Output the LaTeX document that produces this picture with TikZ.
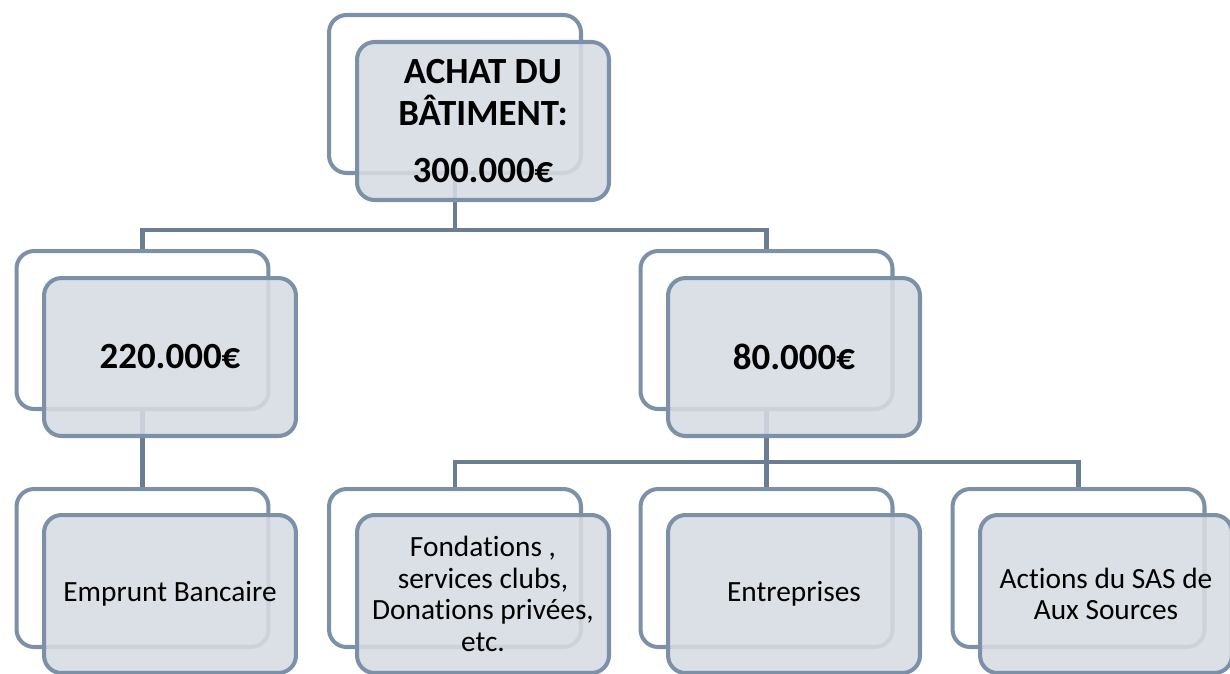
\documentclass[tikz,border=0pt]{standalone}
\usepackage{fontspec}
\setmainfont[Ligatures=NoCommon]{Carlito}
\usetikzlibrary{backgrounds}
\definecolor{cadreBord}{RGB}{124,145,168}
\definecolor{cadreFond}{RGB}{214,219,226}
\definecolor{trait}{RGB}{107,125,145}
\tikzset{
  arriere/.style={draw=cadreBord, line width=2.3pt, rounded corners=10pt,
                  minimum width=5.04cm, minimum height=3.16cm},
  avant/.style={arriere, fill=cadreFond, fill opacity=0.88, text opacity=1,
                align=center, font=\fontsize{16.7}{18}\selectfont},
  montant/.style={font=\fontsize{21}{24}\selectfont\bfseries},
  lien/.style={draw=trait, line width=2.3pt}
}

\begin{document}
\begin{tikzpicture}[x=0.02cm,y=-0.02cm]
    \useasboundingbox (0,0) rectangle (1230,673);
    \clip (0,0) rectangle (1230,673);
    % niveau 1
    \node[arriere] (achat-b) at (455,94) {};
    \node[avant,montant] (achat) at (483,121) {ACHAT DU\\BÂTIMENT:\\[8pt]300.000€};
    % niveau 2
    \node[arriere] (l220-b) at (142.5,330) {};
    \node[avant,montant] (l220) at (170,357) {220.000€};
    \node[arriere] (l80-b) at (766.5,330) {};
    \node[avant,montant] (l80) at (794,357) {80.000€};
    % niveau 3
    \node[arriere] (emp-b) at (142.5,568) {};
    \node[avant] (emp) at (170,594) {Emprunt Bancaire};
    \node[arriere] (fond-b) at (455,568) {};
    \node[avant] (fond) at (483,594) {Fondations ,\\services clubs,\\Donations privées,\\etc.};
    \node[arriere] (entr-b) at (766.5,568) {};
    \node[avant] (entr) at (794,594) {Entreprises};
    \node[arriere] (act-b) at (1078.5,568) {};
    \node[avant] (act) at (1106,594) {Actions du SAS de\\Aux Sources};
    \coordinate (barre1) at (0,230);
    \coordinate (barre2) at (0,462);
    \begin{scope}[on background layer]
      \draw[lien] (achat-b.south) -- (achat-b.south |- barre1) -| (l220-b.north);
      \draw[lien] (achat-b.south |- barre1) -| (l80-b.north);
      \draw[lien] (l220-b.south) -- (emp-b.north);
      \draw[lien] (l80-b.south) -- (l80-b.south |- barre2) -| (fond-b.north);
      \draw[lien] (l80-b.south |- barre2) -| (act-b.north);
      \draw[lien] (l80-b.south |- barre2) -- (entr-b.north);
    \end{scope}
  \end{tikzpicture}
\end{document}
